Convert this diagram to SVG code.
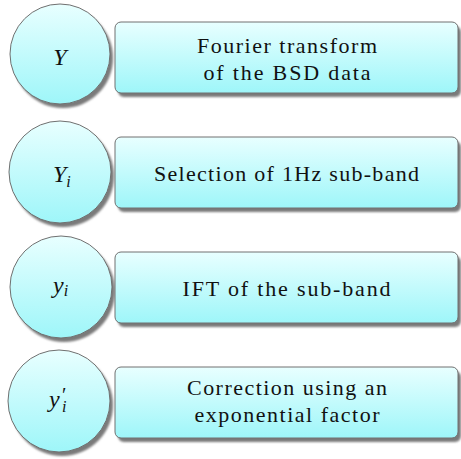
<svg xmlns="http://www.w3.org/2000/svg" width="461" height="459" viewBox="0 0 461 459">
  <style>
    .shadow { fill: #7a7a7a; filter: url(#soft); }
    .disc { fill: url(#cyanFade); stroke: #707070; stroke-width: 1; }
    .box { fill: url(#cyanFade); stroke: #707070; stroke-width: 1; }
    text { font-family: 'Liberation Serif', 'Times New Roman', 'DejaVu Serif', 'Noto Serif', serif; fill: #111; }
    .label { font-size: 22px; text-anchor: middle; }
    .math { font-style: italic; font-size: 24px; }
    .sub { font-size: 16px; }
    .prime { font-size: 20px; font-style: normal; }
  </style>
  <defs>
    <linearGradient id="cyanFade" x1="0" y1="0" x2="0" y2="1">
      <stop offset="0" stop-color="#e8ffff"/>
      <stop offset="1" stop-color="#9ef6f9"/>
    </linearGradient>
    <filter id="soft" x="-10%" y="-10%" width="120%" height="120%">
      <feGaussianBlur stdDeviation="0.8"/>
    </filter>
  </defs>

  <!-- step 1 -->
  <g id="node-Y">
    <circle class="shadow" cx="63" cy="58" r="50"/>
    <circle class="disc" cx="60" cy="54" r="50"/>
    <text class="math" x="60" y="65" text-anchor="middle">Y</text>
  </g>
  <g id="node-fourier">
    <rect class="shadow" x="118" y="26" width="343" height="71" rx="6"/>
    <rect class="box" x="115" y="22" width="343" height="71" rx="6"/>
    <text class="label" x="287" y="53" textLength="180">Fourier transform</text>
    <text class="label" x="287" y="80" textLength="167">of the BSD data</text>
  </g>

  <!-- step 2 -->
  <g id="node-Yi">
    <circle class="shadow" cx="63" cy="176" r="51"/>
    <circle class="disc" cx="60" cy="172" r="51"/>
    <text class="math" x="53" y="182">Y<tspan class="sub" dy="5">i</tspan></text>
  </g>
  <g id="node-selection">
    <rect class="shadow" x="118" y="141" width="343" height="71" rx="6"/>
    <rect class="box" x="115" y="137" width="343" height="71" rx="6"/>
    <text class="label" x="286.5" y="181" textLength="265">Selection of 1Hz sub-band</text>
  </g>

  <!-- step 3 -->
  <g id="node-yi">
    <circle class="shadow" cx="64" cy="291" r="51"/>
    <circle class="disc" cx="61" cy="287" r="51"/>
    <text class="math" x="53" y="293">y<tspan class="sub" dy="3">i</tspan></text>
  </g>
  <g id="node-ift">
    <rect class="shadow" x="118" y="256" width="343" height="71" rx="6"/>
    <rect class="box" x="115" y="252" width="343" height="71" rx="6"/>
    <text class="label" x="286.5" y="296" textLength="208">IFT of the sub-band</text>
  </g>

  <!-- step 4: y with prime and subscript i stacked -->
  <g id="node-yi-prime">
    <circle class="shadow" cx="62" cy="405" r="51"/>
    <circle class="disc" cx="59" cy="401" r="51"/>
    <text class="math" x="49" y="407">y<tspan class="prime" x="62" y="402">′</tspan><tspan class="sub" x="62" y="412">i</tspan></text>
  </g>
  <g id="node-correction">
    <rect class="shadow" x="118" y="371" width="343" height="71" rx="6"/>
    <rect class="box" x="115" y="367" width="343" height="71" rx="6"/>
    <text class="label" x="287" y="395" textLength="200">Correction using an</text>
    <text class="label" x="287" y="422" textLength="185">exponential factor</text>
  </g>

  <g id="connectors"/>
</svg>
